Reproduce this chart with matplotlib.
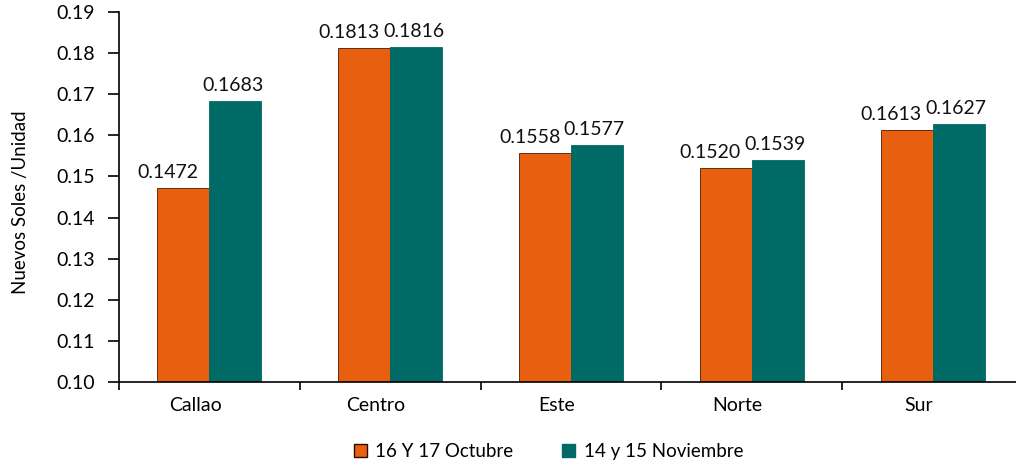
import numpy as np
import matplotlib.pyplot as plt
import matplotlib.transforms as mtransforms
from matplotlib.patches import Patch

plt.rcParams['font.family'] = ['Lato', 'DejaVu Sans']

zonas = ['Callao', 'Centro', 'Este', 'Norte', 'Sur']
octubre = [0.1472, 0.1813, 0.1558, 0.1520, 0.1613]
noviembre = [0.1683, 0.1816, 0.1577, 0.1539, 0.1627]
serie_oct = '16 Y 17 Octubre'
serie_nov = '14 y 15 Noviembre'

c_oct = '#E8600F'
c_nov = '#006B66'

fig = plt.figure(figsize=(10.16, 4.68), dpi=100)
ax = fig.add_axes([0.1171, 0.1838, 0.8898, 0.7906])

x = np.arange(len(zonas))
w = 0.288
b1 = ax.bar(x - w / 2, octubre, w, color=c_oct, edgecolor='#4a1a00', linewidth=0.6)
b2 = ax.bar(x + w / 2, noviembre, w, color=c_nov, edgecolor=c_nov, linewidth=0.6)

# etiquetas de datos (Excel las corre un poco a la izquierda)
for bars, vals, dx in ((b1, octubre, -11), (b2, noviembre, -2)):
    for r, v in zip(bars, vals):
        ax.annotate('%.4f' % v, (r.get_x() + r.get_width() / 2, v),
                    xytext=(dx, 5), textcoords='offset points',
                    ha='center', va='bottom', fontsize=14, color='#111111')

ax.set_ylim(0.10, 0.19)
yt = np.arange(0.10, 0.1901, 0.01)
ax.set_yticks(yt)
ax.set_yticklabels(['%.2f' % t for t in yt], fontsize=14)
ax.set_xlim(-0.5, len(zonas) - 0.5)

ax.set_xticks(np.arange(-0.5, len(zonas), 1.0))
ax.set_xticklabels([])
ax.set_xticks(x, minor=True)
ax.set_xticklabels(zonas, minor=True, fontsize=14)
ax.tick_params(axis='x', which='minor', length=0, pad=11)
ax.tick_params(axis='x', which='major', length=6, width=1.2, direction='out')
ax.tick_params(axis='y', length=8, width=1.2, direction='out', pad=9)

shift = mtransforms.ScaledTranslation(-14 / 100, 0, fig.dpi_scale_trans)
for lab in ax.get_xticklabels(minor=True):
    lab.set_transform(lab.get_transform() + shift)

for s in ['top', 'right']:
    ax.spines[s].set_visible(False)
for s in ['left', 'bottom']:
    ax.spines[s].set_linewidth(1.2)

fig.text(0.020, 0.568, 'Nuevos Soles /Unidad', rotation=90, ha='center', va='center', fontsize=13.5)

handles = [Patch(facecolor=c_oct, edgecolor='#2a0a00', linewidth=1.0),
           Patch(facecolor=c_nov, edgecolor=c_nov, linewidth=1.0)]
fig.legend(handles, [serie_oct, serie_nov], loc='center', bbox_to_anchor=(0.54, 0.035),
           ncol=2, frameon=False, fontsize=13.5, handlelength=0.7, handleheight=0.7,
           handletextpad=0.45, columnspacing=2.6)

fig.savefig('out.png', dpi=100)
